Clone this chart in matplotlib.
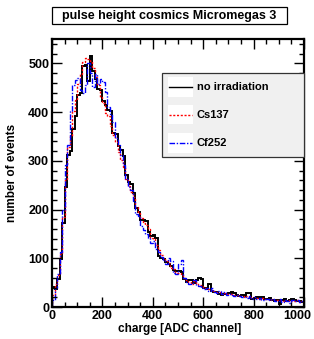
import numpy as np
import matplotlib
matplotlib.use('Agg')
import matplotlib.pyplot as plt
from matplotlib.patches import Rectangle
from matplotlib.ticker import MultipleLocator, FuncFormatter

# histogram contents, 100 bins of 10 ADC channels from 0 to 1000
no_irr = [42, 36, 58, 98, 172, 246, 312, 320, 365, 392,
          436, 440, 494, 496, 463, 516, 485, 468, 447, 445,
          422, 414, 405, 402, 358, 355, 330, 323, 309, 271,
          257, 252, 234, 203, 195, 179, 178, 176, 154, 146,
          147, 141, 105, 100, 98, 93, 89, 84, 76, 73,
          74, 71, 58, 51, 55, 56, 50, 55, 59, 58,
          40, 36, 48, 33, 31, 30, 27, 25, 27, 26,
          29, 31, 28, 24, 23, 25, 22, 29, 28, 17,
          19, 21, 18, 20, 17, 16, 18, 14, 13, 15,
          7, 15, 16, 13, 15, 16, 14, 12, 13, 11]

cs137 = [25, 48, 66, 108, 185, 262, 328, 350, 402, 425,
         458, 478, 502, 512, 508, 505, 490, 472, 455, 430,
         418, 398, 392, 372, 352, 338, 318, 302, 288, 262,
         248, 236, 226, 205, 192, 183, 172, 168, 160, 142,
         140, 128, 118, 106, 101, 94, 90, 80, 79, 70,
         70, 66, 60, 56, 52, 48, 53, 49, 46, 44,
         40, 39, 36, 35, 33, 30, 31, 27, 29, 26,
         26, 27, 24, 25, 22, 23, 20, 22, 19, 20,
         18, 19, 17, 18, 16, 17, 15, 16, 14, 15,
         15, 13, 14, 12, 15, 13, 12, 14, 11, 12]

cf252 = [15, 40, 68, 112, 200, 292, 332, 402, 455, 466,
         470, 445, 440, 456, 500, 480, 452, 478, 458, 468,
         462, 442, 410, 396, 380, 346, 332, 312, 292, 262,
         246, 240, 218, 190, 186, 166, 158, 150, 142, 132,
         136, 120, 112, 102, 96, 88, 100, 94, 70, 68,
         88, 96, 60, 52, 48, 50, 56, 46, 44, 40,
         36, 40, 33, 38, 30, 28, 32, 26, 30, 24,
         27, 25, 22, 24, 23, 20, 21, 18, 22, 17,
         20, 16, 18, 15, 17, 16, 14, 17, 13, 12,
         16, 11, 14, 13, 8, 15, 12, 14, 10, 13]

edges = np.arange(0, 1001, 10)

plt.rcParams['font.family'] = ['Liberation Sans', 'DejaVu Sans']
plt.rcParams['font.weight'] = 'bold'

fig = plt.figure(figsize=(3.14, 3.39), dpi=100)
ax = fig.add_axes([52/314, 32/339, 252/314, 268/339])

ax.stairs(no_irr, edges, color='black', lw=1.4)
ax.stairs(cs137, edges, color='red', lw=1.0, ls=(0, (1.5, 1.2)))
ax.stairs(cf252, edges, color='blue', lw=1.0, ls=(0, (4, 1.2, 1, 1.2)))

ax.set_xlim(0, 1000)
ax.set_ylim(0, 550)
ax.xaxis.set_major_locator(MultipleLocator(200))
ax.xaxis.set_minor_locator(MultipleLocator(50))
ax.yaxis.set_major_locator(MultipleLocator(100))
ax.yaxis.set_minor_locator(MultipleLocator(20))
# last x label is placed by hand so it stays inside the picture
ax.xaxis.set_major_formatter(FuncFormatter(lambda v, p: '' if v >= 1000 else f'{v:.0f}'))
ax.tick_params(which='both', direction='in', top=True, right=True,
               labelsize=9, pad=2, width=1)
ax.tick_params(which='major', length=7)
ax.tick_params(which='minor', length=3.5)
for lbl in ax.get_xticklabels() + ax.get_yticklabels():
    lbl.set_fontweight('bold')
for s in ax.spines.values():
    s.set_linewidth(1.6)
ax.annotate('1000', xy=(1000, 0), xycoords=('data', 'axes fraction'),
            xytext=(-4.5, -2), textcoords='offset points',
            ha='center', va='top', fontsize=9, fontweight='bold')

ax.set_xlabel('charge [ADC channel]', fontsize=8.5, fontweight='bold')
ax.xaxis.set_label_coords(0.75, -0.06)
ax.xaxis.label.set_horizontalalignment('right')
ax.set_ylabel('number of events', fontsize=8.5, fontweight='bold')
ax.yaxis.set_label_coords(-0.135, 0.5)

# legend box
tr = ax.transAxes
ax.add_patch(Rectangle((0.437, 0.56), 0.563, 0.313, transform=tr,
                       facecolor='#f0f0f0', edgecolor='#333333', lw=0.9,
                       zorder=5, clip_on=False))
names = ['no irradiation', 'Cs137', 'Cf252']
styles = [dict(color='black', lw=1.0, ls='-'),
          dict(color='red', lw=1.0, ls=(0, (1.5, 1.2))),
          dict(color='blue', lw=1.0, ls=(0, (4, 1.2, 1, 1.2)))]
rows = [0.822, 0.718, 0.612]
for name, st, yy in zip(names, styles, rows):
    ax.add_patch(Rectangle((0.46, yy - 0.037), 0.1, 0.074, transform=tr,
                           facecolor='white', edgecolor='none', zorder=6))
    ax.plot([0.465, 0.555], [yy, yy], transform=tr, zorder=7, **st)
    ax.text(0.575, yy, name, transform=tr, fontsize=8, fontweight='bold',
            va='center', ha='left', zorder=7)

# title box
fig.text(169/314, 1 - 15.5/339, 'pulse height cosmics Micromegas 3',
         ha='center', va='center', fontsize=9, fontweight='bold')
fig.patches.append(Rectangle((52/314, 1 - 24/339), 235/314, 17/339,
                             transform=fig.transFigure, facecolor='white',
                             edgecolor='black', lw=0.9, zorder=-1))

fig.savefig('out.png', dpi=100)
